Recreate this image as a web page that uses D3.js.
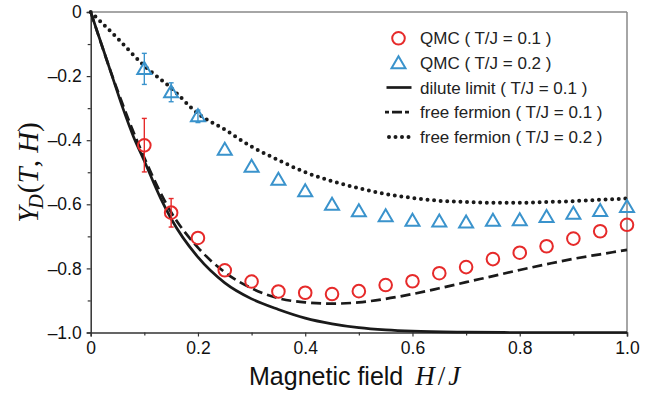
<!DOCTYPE html>
<html><head><meta charset="utf-8">
<script src="https://cdn.jsdelivr.net/npm/d3@7"></script>
<style>body{margin:0;background:#fff}svg{display:block}</style>
</head><body><svg id="c" width="657" height="401" font-family="Liberation Sans, Arial, sans-serif"></svg>
<script>
// QMC data
const qmcX = [0.1,0.15,0.2,0.25,0.3,0.35,0.4,0.45,0.5,0.55,0.6,0.65,0.7,0.75,0.8,0.85,0.9,0.95,1.0];
const qmc01 = [-0.416,-0.626,-0.705,-0.806,-0.841,-0.872,-0.876,-0.880,-0.871,-0.852,-0.840,-0.815,-0.796,-0.771,-0.751,-0.731,-0.707,-0.684,-0.664];
const qmc02 = [-0.176,-0.249,-0.324,-0.428,-0.481,-0.522,-0.558,-0.600,-0.620,-0.636,-0.650,-0.652,-0.655,-0.650,-0.648,-0.638,-0.628,-0.619,-0.607];
const err01 = [[0.1,-0.332,-0.499],[0.15,-0.582,-0.671]];
const err02 = [[0.1,-0.129,-0.226],[0.15,-0.221,-0.280],[0.2,-0.306,-0.345]];
// curves
const diluteX = [0,0.02,0.04,0.06,0.08,0.1,0.13,0.15,0.2,0.25,0.3,0.35,0.4,0.45,0.5,0.55,0.6,0.7,0.8,0.9,1.0];
const diluteY = [0,-0.10,-0.20,-0.30,-0.39,-0.465,-0.58,-0.645,-0.765,-0.845,-0.895,-0.928,-0.955,-0.973,-0.985,-0.992,-0.996,-0.999,-1.0,-1.0,-1.0];
const ff01X = [0,0.05,0.1,0.15,0.2,0.25,0.3,0.35,0.4,0.45,0.5,0.55,0.6,0.65,0.7,0.75,0.8,0.85,0.9,0.95,1.0];
const ff01Y = [0,-0.245,-0.455,-0.625,-0.735,-0.812,-0.862,-0.893,-0.906,-0.910,-0.906,-0.895,-0.880,-0.862,-0.843,-0.824,-0.805,-0.787,-0.770,-0.756,-0.742];
const ff02X = [0,0.05,0.1,0.15,0.2,0.25,0.3,0.35,0.4,0.45,0.5,0.55,0.6,0.65,0.7,0.75,0.8,0.85,0.9,0.95,1.0];
const ff02Y = [0,-0.082,-0.168,-0.237,-0.317,-0.367,-0.420,-0.462,-0.500,-0.528,-0.550,-0.568,-0.580,-0.589,-0.593,-0.595,-0.595,-0.593,-0.590,-0.586,-0.582];
const xTicks = [0,0.2,0.4,0.6,0.8,1.0];
const yTicks = [0,-0.2,-0.4,-0.6,-0.8,-1.0];
const legendLabels = ["QMC ( T/J = 0.1 )","QMC ( T/J = 0.2 )","dilute limit ( T/J = 0.1 )","free fermion ( T/J = 0.1 )","free fermion ( T/J = 0.2 )"];

const RED="#e62a2a", BLUE="#3a93cc", BLK="#1a1a1a";
const SERIF="Liberation Serif, Times New Roman, serif";
const svg = d3.select("#c");
const L=90.7, R=627, T=12, B=332.5;
const x = d3.scaleLinear().domain([0,1]).range([L,R]);
const y = d3.scaleLinear().domain([-1,0]).range([B,T]);

// frame top/right
svg.append("line").attr("x1",L).attr("x2",R).attr("y1",T).attr("y2",T).attr("stroke","#888").attr("stroke-width",1.5);
svg.append("line").attr("x1",R).attr("x2",R).attr("y1",T).attr("y2",B).attr("stroke","#888").attr("stroke-width",1.5);

const fmt = d => d===0 ? "0" : d3.format(".1f")(d).replace("\u2212","\u2013");
const gx = svg.append("g").attr("transform",`translate(0,${B})`)
  .call(d3.axisBottom(x).tickValues(xTicks).tickFormat(fmt).tickSize(4).tickPadding(5));
const gxm = svg.append("g").attr("transform",`translate(0,${B})`)
  .call(d3.axisBottom(x).tickValues([0.1,0.3,0.5,0.7,0.9]).tickFormat("").tickSize(3));
const gy = svg.append("g").attr("transform",`translate(${L},0)`)
  .call(d3.axisLeft(y).tickValues(yTicks).tickFormat(fmt).tickSize(4).tickPadding(5));
const gym = svg.append("g").attr("transform",`translate(${L},0)`)
  .call(d3.axisLeft(y).tickValues([-0.1,-0.3,-0.5,-0.7,-0.9]).tickFormat("").tickSize(3));
[gx,gxm,gy,gym].forEach(g=>{
  g.select(".domain").attr("stroke","#333").attr("stroke-width",1.5);
  g.selectAll(".tick line").attr("stroke","#333").attr("stroke-width",1.2);
  g.selectAll("text").attr("font-size",17.5).attr("fill","#111").attr("font-family","Liberation Sans, Arial, sans-serif");
});
gxm.select(".domain").remove(); gym.select(".domain").remove();

// curves
const line = (xs,ys) => d3.line().curve(d3.curveMonotoneX).x((d,i)=>x(xs[i])).y((d,i)=>y(ys[i]))(xs);
svg.append("path").attr("d",line(diluteX,diluteY)).attr("fill","none").attr("stroke",BLK).attr("stroke-width",2.7);
svg.append("path").attr("d",line(ff01X,ff01Y)).attr("fill","none").attr("stroke",BLK).attr("stroke-width",2.7).attr("stroke-dasharray","10,5");
svg.append("path").attr("d",line(ff02X,ff02Y)).attr("fill","none").attr("stroke",BLK).attr("stroke-width",4).attr("stroke-linecap","round").attr("stroke-dasharray","0,6.6");

// error bars
function errs(data,col){
  const g=svg.append("g").attr("stroke",col).attr("stroke-width",1.4);
  data.forEach(([xv,a,b])=>{
    g.append("line").attr("x1",x(xv)).attr("x2",x(xv)).attr("y1",y(a)).attr("y2",y(b));
    [a,b].forEach(v=>g.append("line").attr("x1",x(xv)-2.5).attr("x2",x(xv)+2.5).attr("y1",y(v)).attr("y2",y(v)));
  });
}
errs(err02,BLUE); errs(err01,RED);

const tri = (cx,cy)=>`M${cx},${cy-6.5}L${cx+7},${cy+5.5}L${cx-7},${cy+5.5}Z`;
svg.append("g").selectAll("path").data(qmcX).join("path")
  .attr("d",(d,i)=>tri(x(d),y(qmc02[i]))).attr("fill","none").attr("stroke",BLUE).attr("stroke-width",2);
svg.append("g").selectAll("circle").data(qmcX).join("circle")
  .attr("cx",d=>x(d)).attr("cy",(d,i)=>y(qmc01[i])).attr("r",6.3).attr("fill","none").attr("stroke",RED).attr("stroke-width",2);

// legend
const lg = svg.append("g");
const ly = [38.3,62.7,87.5,112.2,137];
lg.append("circle").attr("cx",398.5).attr("cy",ly[0]).attr("r",6.3).attr("fill","none").attr("stroke",RED).attr("stroke-width",2);
lg.append("path").attr("d",tri(398.5,ly[1])).attr("fill","none").attr("stroke",BLUE).attr("stroke-width",2);
lg.append("line").attr("x1",386.5).attr("x2",411.5).attr("y1",ly[2]).attr("y2",ly[2]).attr("stroke",BLK).attr("stroke-width",2.7);
lg.append("line").attr("x1",385).attr("x2",411.5).attr("y1",ly[3]).attr("y2",ly[3]).attr("stroke",BLK).attr("stroke-width",2.7).attr("stroke-dasharray","4,3,10,3,4");
lg.append("line").attr("x1",389).attr("x2",409).attr("y1",ly[4]).attr("y2",ly[4]).attr("stroke",BLK).attr("stroke-width",4).attr("stroke-linecap","round").attr("stroke-dasharray","0,6.5");
legendLabels.forEach((t,i)=>lg.append("text").attr("x",420).attr("y",ly[i]+6).attr("font-size",17).attr("fill","#222").text(t));

// axis titles
const xt = svg.append("text").attr("x",249).attr("y",385).attr("font-size",25).attr("fill","#111");
xt.append("tspan").text("Magnetic field");
xt.append("tspan").attr("dx",12).attr("font-family",SERIF).attr("font-style","italic").attr("font-size",27).text("H");
xt.append("tspan").attr("dx",3).attr("font-family",SERIF).attr("font-size",27).text("/");
xt.append("tspan").attr("dx",3).attr("font-family",SERIF).attr("font-style","italic").attr("font-size",27).text("J");

const yt = svg.append("text").attr("transform","translate(38,172.5) rotate(-90)").attr("text-anchor","middle")
  .attr("font-family",SERIF).attr("font-size",29).attr("fill","#111");
yt.append("tspan").attr("font-style","italic").text("Y");
yt.append("tspan").attr("font-style","italic").attr("font-size",20).attr("dy",5).attr("dx",-2).text("D");
yt.append("tspan").attr("dy",-5).attr("dx",1).text("(");
yt.append("tspan").attr("font-style","italic").text("T");
yt.append("tspan").text(", ");
yt.append("tspan").attr("font-style","italic").text("H");
yt.append("tspan").text(")");
</script></body></html>
